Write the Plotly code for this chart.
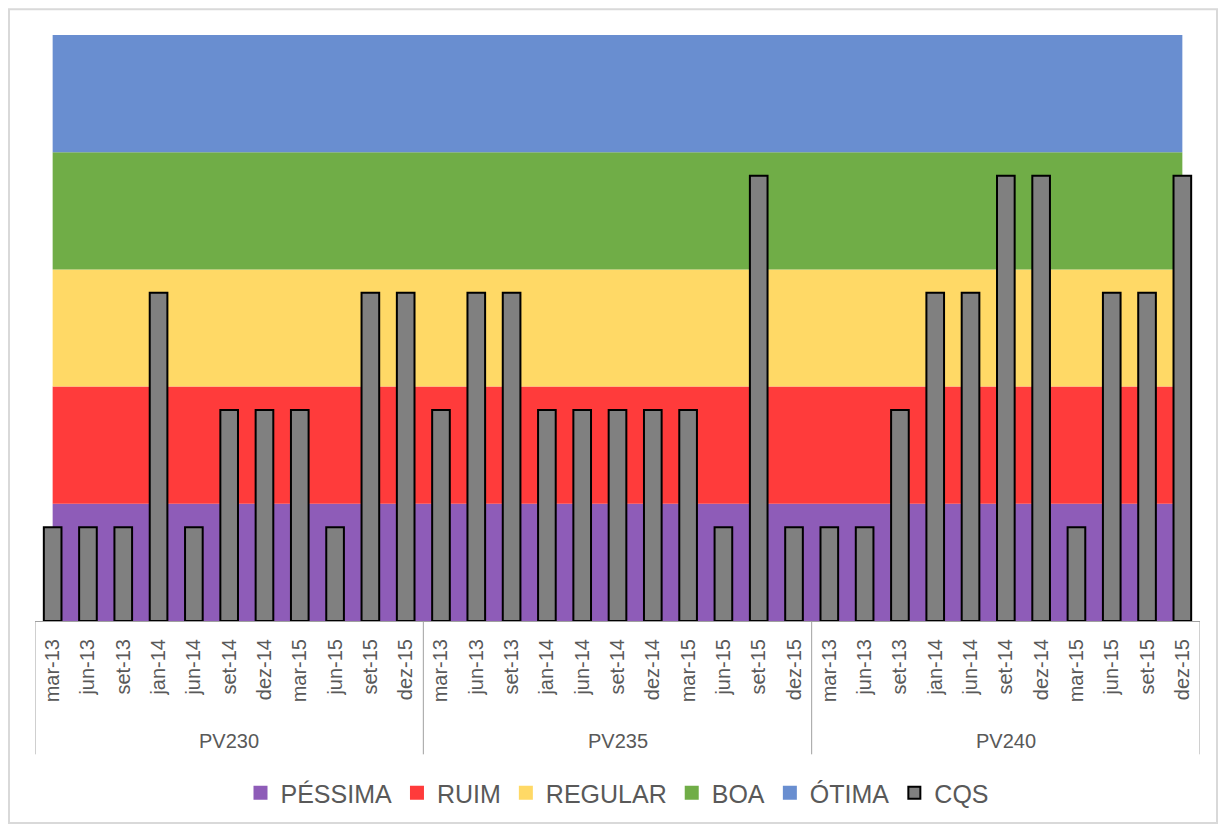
import plotly.graph_objects as go

# ---- data ----
groups = ["PV230", "PV235", "PV240"]
periods = ["mar-13", "jun-13", "set-13", "jan-14", "jun-14", "set-14",
           "dez-14", "mar-15", "jun-15", "set-15", "dez-15"]
cqs_pv230 = [16, 16, 16, 56, 16, 36, 36, 36, 16, 56, 56]
cqs_pv235 = [36, 56, 56, 36, 36, 36, 36, 36, 16, 76, 16]
cqs_pv240 = [16, 16, 36, 56, 56, 76, 76, 16, 56, 56, 76]
band_names = ["PÉSSIMA", "RUIM", "REGULAR", "BOA", "ÓTIMA"]
band_size = [20, 20, 20, 20, 20]
band_colors = ["#8E5CB8", "#FF3B3B", "#FFD966", "#70AD47", "#698ED0"]

cqs = cqs_pv230 + cqs_pv235 + cqs_pv240
labels = periods * len(groups)
n = len(labels)
x = list(range(n))
gsize = len(periods)

OFF = 8  # page offset of the figure
W, H = 1226 - 2 * OFF, 836 - 2 * OFF
ML, MT = 35 - OFF, 35 - OFF
AXIS_Y = 624 - OFF
RIGHT = 1200 - OFF
MR = W - RIGHT
MB = H - AXIS_Y
ph = H - MT - MB
pw = W - ML - MR

def py(pix):  # page pixel y -> paper y
    return (AXIS_Y - (pix - OFF)) / ph

def px(pix):
    return (pix - OFF - ML) / pw

fig = go.Figure()

# background bands (stacked areas) on base axes
for name, size, col in zip(band_names, band_size, band_colors):
    fig.add_trace(go.Scatter(
        x=x, y=[size] * n, stackgroup="bands", mode="none",
        fillcolor=col, line=dict(width=0), showlegend=False,
        hoverinfo="skip", xaxis="x", yaxis="y"))

# legend squares for bands
for name, col in zip(band_names, band_colors):
    fig.add_trace(go.Scatter(
        x=[None], y=[None], mode="markers", name=name,
        marker=dict(symbol="square", size=14, color=col),
        xaxis="x", yaxis="y"))

# CQS bars on overlay axes (drawn above bands)
fig.add_trace(go.Bar(
    x=x, y=cqs, name="CQS", width=0.5,
    marker=dict(color="#808080", line=dict(color="#000000", width=2)),
    xaxis="x2", yaxis="y2", hoverinfo="skip"))

axis_col = "#A0A0A0"
font_col = "#595959"

fig.update_layout(
    width=W, height=H,
    margin=dict(l=ML, r=MR, t=MT, b=MB),
    paper_bgcolor="white", plot_bgcolor="white",
    font=dict(family="Liberation Sans, Arial, sans-serif", color=font_col),
    xaxis=dict(range=[-0.5, n - 0.5], tickmode="array", tickvals=x,
               ticktext=labels, tickangle=-90,
               tickfont=dict(size=20, color=font_col),
               ticks="outside", ticklen=9, tickcolor="rgba(0,0,0,0)",
               showline=True, linecolor=axis_col, linewidth=1,
               showgrid=False, zeroline=False, fixedrange=True),
    yaxis=dict(range=[0, 100], visible=False, fixedrange=True),
    xaxis2=dict(range=[-0.5, n - 0.5], overlaying="x", visible=False),
    yaxis2=dict(range=[0, 100], overlaying="y", visible=False),
    showlegend=True,
    legend=dict(orientation="h", x=0.5, xanchor="center",
                y=py(797), yanchor="middle", traceorder="normal",
                font=dict(size=25, color=font_col),
                itemclick=False, itemdoubleclick=False),
    hovermode=False,
)

# group dividers and group labels
for gi, g in enumerate(groups):
    start = gi * gsize
    idx = list(range(start, start + gsize))
    fig.add_annotation(x=sum(idx) / len(idx), y=py(745), xref="x", yref="paper",
                       text=g, showarrow=False, yanchor="middle",
                       font=dict(size=20, color=font_col))
for k in range(len(groups) + 1):
    xb = k * gsize - 0.5
    fig.add_shape(type="line", xref="x", yref="paper", x0=xb, x1=xb,
                  y0=0, y1=py(758), line=dict(color=axis_col, width=1))

# chart border
fig.add_shape(type="rect", xref="paper", yref="paper",
              x0=px(OFF + 1), x1=px(OFF + W - 1), y0=py(OFF + H - 1), y1=py(OFF + 1),
              line=dict(color="#D9D9D9", width=2), layer="below")

fig.write_html("out.html")
